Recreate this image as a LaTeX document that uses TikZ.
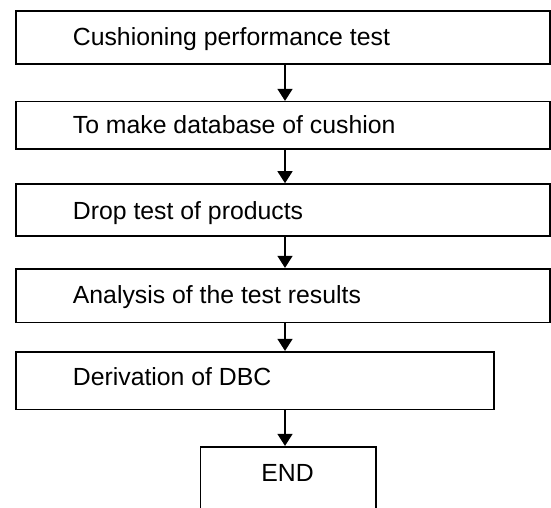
\documentclass[tikz,border=0pt]{standalone}
\usepackage{fontspec}
\setmainfont{Liberation Sans}
\usetikzlibrary{arrows.meta}
\begin{document}
\begin{tikzpicture}[x=1bp,y=1bp,
  stepbox/.style={draw=black,line width=1.6bp,rectangle,inner sep=0pt,fill=white},
  lbl/.style={anchor=base west,inner sep=0pt,font=\fontsize{24.8bp}{30bp}\selectfont},
  arr/.style={line width=1.3bp,-{Triangle[length=12bp,width=15bp]}}]
\useasboundingbox (0,0) rectangle (551,-508);
\clip (0,0) rectangle (551,-508);
\fill[white] (0,0) rectangle (551,-508);
\node[stepbox,minimum width=534bp,minimum height=53bp] (b1) at (283,-37.5) {};
\node[stepbox,minimum width=534bp,minimum height=47.6bp] (b2) at (283,-125.5) {};
\node[stepbox,minimum width=534bp,minimum height=52bp] (b3) at (283,-210) {};
\node[stepbox,minimum width=534bp,minimum height=53.6bp] (b4) at (283,-295.5) {};
\node[stepbox,minimum width=478bp,minimum height=57.6bp] (b5) at (255,-380.5) {};
\node[stepbox,minimum width=175.5bp,minimum height=100bp] (b6) at (288.25,-496.7) {};
\node[lbl] (t1) at (72.7,-45.6) {Cushioning performance test};
\node[lbl] (t2) at (72.7,-133.3) {To make database of cushion};
\node[lbl] (t3) at (72.7,-220) {Drop test of products};
\node[lbl] (t4) at (72.7,-303.3) {Analysis of the test results};
\node[lbl] (t5) at (72.7,-385) {Derivation of DBC};
\node[lbl,anchor=base] (t6) at (287.5,-481.7) {END};
\coordinate (ax) at (285,0);
\draw[arr] (b1.south -| ax) -- (b2.north -| ax);
\draw[arr] (b2.south -| ax) -- (b3.north -| ax);
\draw[arr] (b3.south -| ax) -- (b4.north -| ax);
\draw[arr] (b4.south -| ax) -- (b5.north -| ax);
\draw[arr] (b5.south -| ax) -- (b6.north -| ax);
\end{tikzpicture}
\end{document}
